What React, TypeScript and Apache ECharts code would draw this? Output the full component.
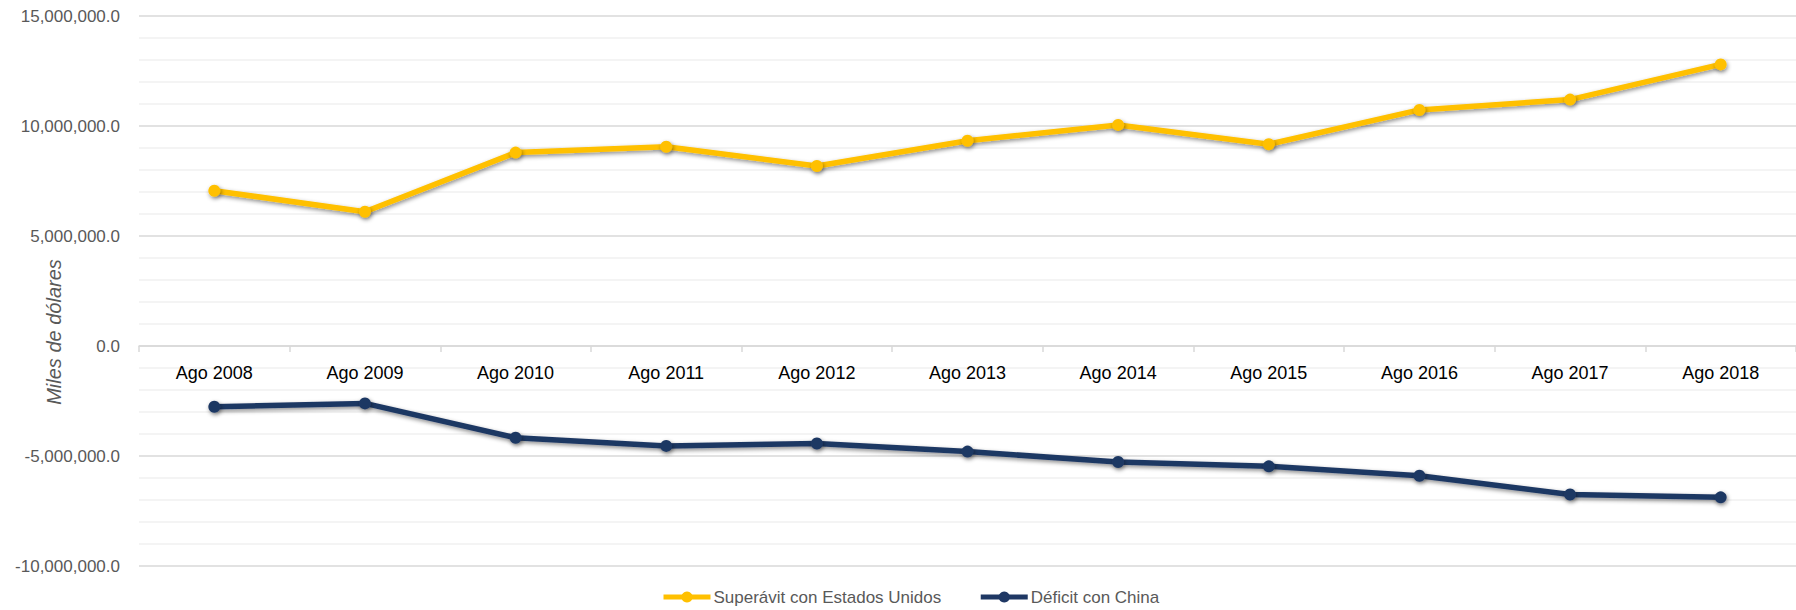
import React, { useEffect, useRef } from "react";
import * as echarts from "echarts";

const categories = ["Ago 2008", "Ago 2009", "Ago 2010", "Ago 2011", "Ago 2012", "Ago 2013", "Ago 2014", "Ago 2015", "Ago 2016", "Ago 2017", "Ago 2018"];
const superavitEEUU = [7060000, 6100000, 8790000, 9060000, 8180000, 9330000, 10050000, 9170000, 10730000, 11200000, 12800000];
const deficitChina = [-2760000, -2610000, -4170000, -4540000, -4430000, -4800000, -5270000, -5470000, -5900000, -6750000, -6880000];
const seriesNames = ["Superávit con Estados Unidos", "Déficit con China"];
const yTitle = "Miles de dólares";

const fmt = (v: number) => {
  const s = Math.abs(v).toFixed(1);
  const [i, d] = s.split(".");
  const withCommas = i.replace(/\B(?=(\d{3})+(?!\d))/g, ",");
  return (v < 0 ? "-" : "") + withCommas + "." + d;
};

export default function App() {
  const ref = useRef<HTMLDivElement>(null);
  useEffect(() => {
    document.body.style.margin = "0";
    const chart = echarts.init(ref.current!, null, { renderer: "svg" });
    const shadow = { shadowBlur: 4, shadowOffsetX: 1, shadowOffsetY: 2, shadowColor: "rgba(0,0,0,0.45)" };
    chart.setOption({
      animation: false,
      backgroundColor: "#ffffff",
      textStyle: { fontFamily: "Liberation Sans" },
      grid: { left: 139, top: 16, width: 1663, height: 550, containLabel: false },
      legend: {
        left: 661,
        top: 588,
        padding: 0,
        itemWidth: 47,
        itemHeight: 14,
        itemGap: 37,
        lineStyle: { width: 5 },
        textStyle: { fontSize: 17, lineHeight: 18, color: "#595959", padding: [0, 0, 0, -2] },
        data: seriesNames,
      },
      graphic: [
        {
          type: "text",
          x: 54,
          y: 332,
          rotation: Math.PI / 2,
          style: {
            text: yTitle,
            fontSize: 20,
            fontStyle: "italic",
            fontFamily: "Liberation Sans",
            fill: "#595959",
            align: "center",
            verticalAlign: "middle",
          },
        },
      ],
      xAxis: [
        {
          type: "category",
          data: categories,
          boundaryGap: true,
          axisLine: { onZero: true, lineStyle: { color: "#d9d9d9", width: 1.5 } },
          axisTick: { show: true, length: 6, lineStyle: { color: "#d9d9d9", width: 1.5 } },
          axisLabel: { show: false },
          splitLine: { show: false },
        },
        {
          type: "category",
          data: categories,
          boundaryGap: true,
          position: "bottom",
          offset: -219,
          axisLine: { show: false, onZero: false },
          axisTick: { show: false },
          axisLabel: { fontSize: 18, color: "#000000", margin: 17 },
          splitLine: { show: false },
        },
      ],
      yAxis: {
        type: "value",
        min: -10000000,
        max: 15000000,
        interval: 5000000,
        axisLine: { show: false },
        axisTick: { show: false },
        axisLabel: { fontSize: 17, color: "#595959", margin: 19, formatter: (v: number) => fmt(v) },
        splitLine: { show: true, lineStyle: { color: "#d9d9d9", width: 1.5 } },
        minorTick: { show: false, splitNumber: 5 },
        minorSplitLine: { show: true, lineStyle: { color: "#f0f0f0", width: 1.5 } },
      },
      series: [
        {
          name: seriesNames[0],
          type: "line",
          data: superavitEEUU,
          symbol: "circle",
          symbolSize: 12,
          color: "#FFC000",
          lineStyle: { color: "#FFC000", width: 5.5, ...shadow },
          itemStyle: { color: "#FFC000", ...shadow },
        },
        {
          name: seriesNames[1],
          type: "line",
          data: deficitChina,
          symbol: "circle",
          symbolSize: 12,
          color: "#1F3864",
          lineStyle: { color: "#1F3864", width: 5.5, ...shadow },
          itemStyle: { color: "#1F3864", ...shadow },
        },
      ],
    });
    return () => chart.dispose();
  }, []);
  return <div ref={ref} style={{ width: 1796, height: 610 }} />;
}
